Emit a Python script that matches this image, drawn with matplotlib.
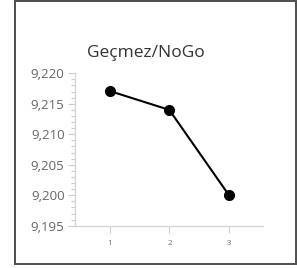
import matplotlib
matplotlib.use("Agg")
import matplotlib.pyplot as plt
from matplotlib.patches import Rectangle
from matplotlib.ticker import MultipleLocator, FuncFormatter

# ===== data =====
title = "Geçmez/NoGo"
x_vals = [1, 2, 3]
y_vals = [9.2171, 9.2140, 9.2000]
y_ticks = [9.195, 9.200, 9.205, 9.210, 9.215, 9.220]

plt.rcParams['font.family'] = ['Open Sans', 'DejaVu Sans']

fig = plt.figure(figsize=(2.97, 2.68), dpi=100)

# outer frame
fig.patches.append(Rectangle((14.5 / 297, 1 - 264 / 268), (296 - 14.5) / 297, (264 - 0.8) / 268,
                             transform=fig.transFigure, fill=False,
                             edgecolor='#4d4d4d', linewidth=1.4))

ax = fig.add_axes([75 / 297, 1 - 225.7 / 268, (263 - 75) / 297, 152.4 / 268])
ax.plot(x_vals, y_vals, color='black', linewidth=1.5, marker='o', markersize=7,
        markerfacecolor='black', markeredgecolor='black', zorder=3)

ax.set_xlim(0.42, 3.57)
ax.set_ylim(9.195, 9.220)
ax.set_xticks(x_vals)
ax.set_yticks(y_ticks)
ax.yaxis.set_minor_locator(MultipleLocator(0.001))
ax.yaxis.set_major_formatter(FuncFormatter(lambda v, p: f"{v:,.3f}".replace(".", ",")))

for s in ['top', 'right']:
    ax.spines[s].set_visible(False)
for s in ['left', 'bottom']:
    ax.spines[s].set_color('#d6d6d6')
    ax.spines[s].set_linewidth(1.0)

ax.tick_params(axis='y', which='major', length=5, width=0.8, color='#cccccc',
               labelsize=9.5, labelcolor='#666666', pad=2.5)
ax.tick_params(axis='y', which='minor', length=3, width=0.8, color='#cccccc')
ax.tick_params(axis='x', which='major', length=5, width=0.8, color='#cccccc',
               labelsize=5.5, labelcolor='#666666', pad=5)

fig.text(146 / 297, 1 - 53 / 268, title, ha='center', va='center',
         fontsize=12.5, color='#333333')

fig.savefig("out.png", dpi=100)
